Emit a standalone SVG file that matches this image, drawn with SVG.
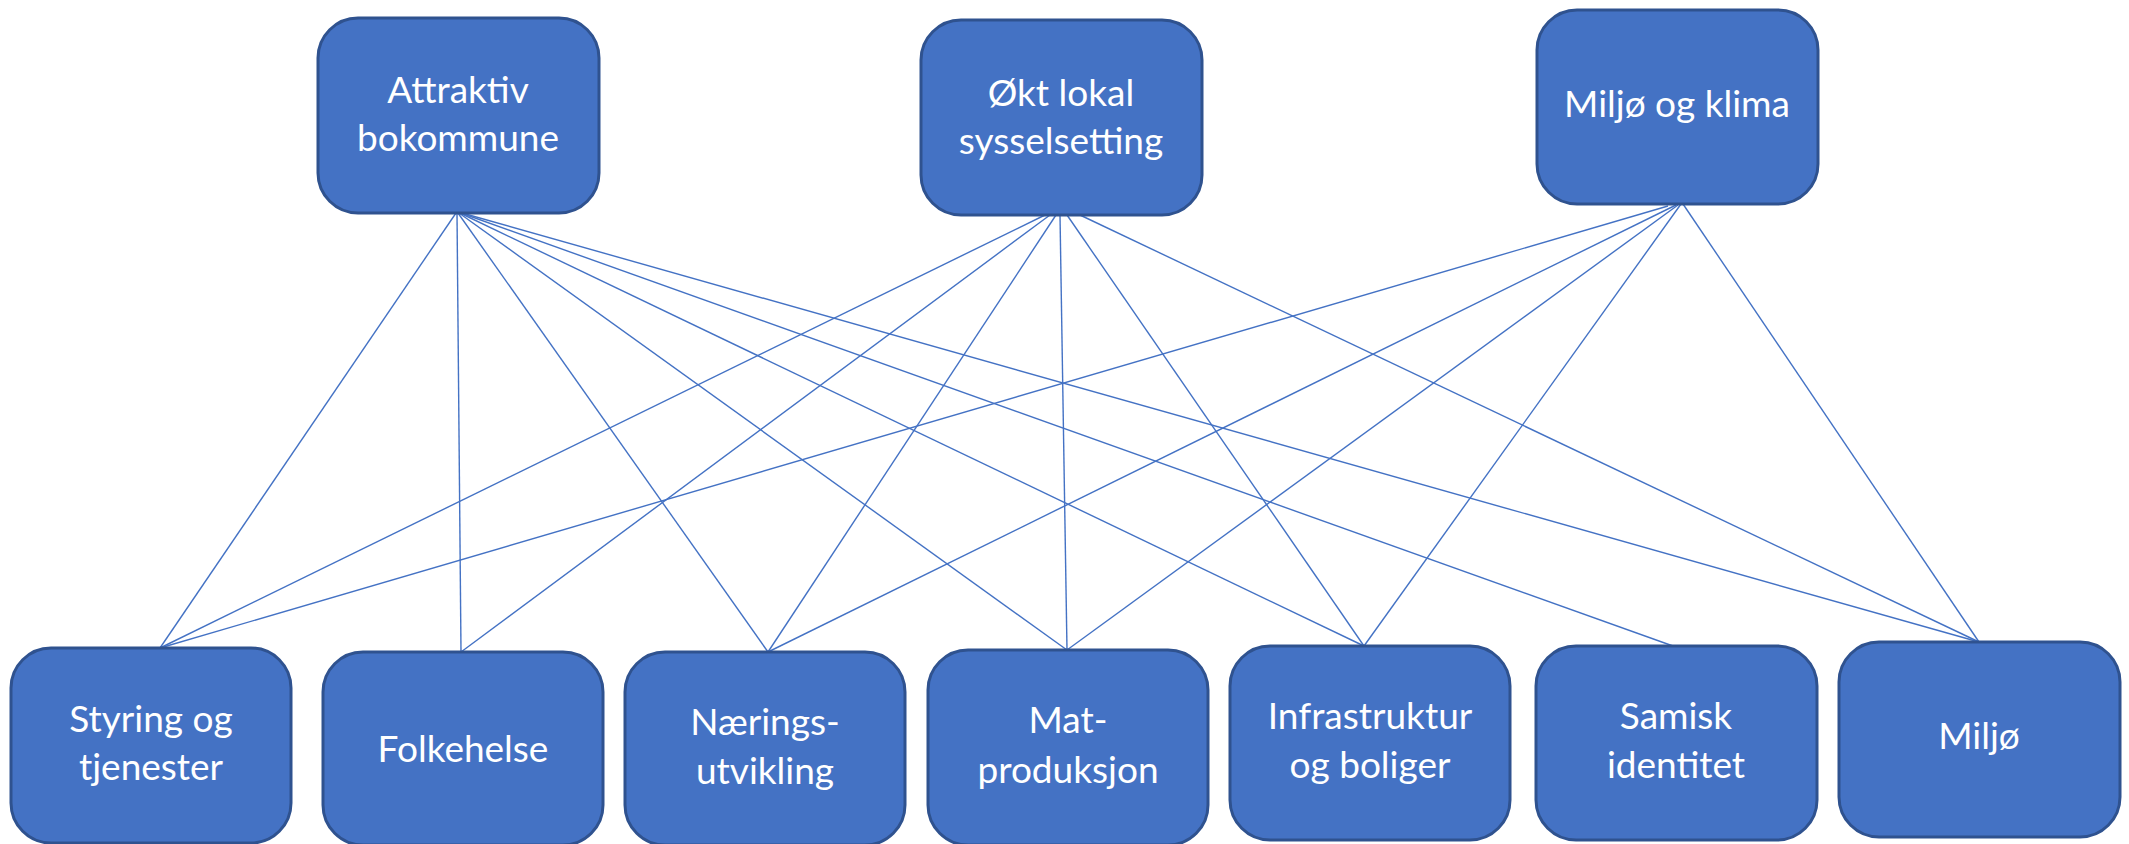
<svg xmlns="http://www.w3.org/2000/svg" width="2129" height="844" viewBox="0 0 2129 844">
<style>
.box{fill:#4472C4;stroke:#2F528F;stroke-width:3}
.lbl{font-family:Lato,"Open Sans","Liberation Sans",sans-serif;font-size:37px;fill:#FFFFFF;text-anchor:middle}
.ln{stroke:#4472C4;stroke-width:1.4;fill:none}
</style>
<rect width="2129" height="844" fill="#FFFFFF"/>
<g id="connectors">
<line class="ln" x1="456" y1="213" x2="160" y2="648"/>
<line class="ln" x1="457" y1="213" x2="461" y2="652"/>
<line class="ln" x1="458" y1="213" x2="768" y2="652"/>
<line class="ln" x1="459" y1="213" x2="1067" y2="650"/>
<line class="ln" x1="460" y1="213" x2="1364" y2="646"/>
<line class="ln" x1="461" y1="213" x2="1673" y2="646"/>
<line class="ln" x1="462" y1="213" x2="1979" y2="642"/>
<line class="ln" x1="1045" y1="215" x2="160" y2="648"/>
<line class="ln" x1="1050" y1="215" x2="461" y2="652"/>
<line class="ln" x1="1056" y1="215" x2="768" y2="652"/>
<line class="ln" x1="1060" y1="215" x2="1067" y2="650"/>
<line class="ln" x1="1067" y1="215" x2="1364" y2="646"/>
<line class="ln" x1="1080" y1="215" x2="1979" y2="642"/>
<line class="ln" x1="1668" y1="206" x2="160" y2="648"/>
<line class="ln" x1="1676" y1="205" x2="768" y2="652"/>
<line class="ln" x1="1678" y1="205" x2="1067" y2="650"/>
<line class="ln" x1="1681" y1="204" x2="1364" y2="646"/>
<line class="ln" x1="1683" y1="204" x2="1979" y2="642"/>
</g>
<g id="n-attraktiv">
<rect class="box" x="318" y="18" width="281" height="195" rx="40"/>
<text class="lbl" x="458" y="103">Attraktiv</text>
<text class="lbl" x="458" y="151">bokommune</text>
</g>
<g id="n-okt">
<rect class="box" x="921" y="20" width="281" height="195" rx="40"/>
<text class="lbl" x="1061" y="106">Økt lokal</text>
<text class="lbl" x="1061" y="154">sysselsetting</text>
</g>
<g id="n-miljoklima">
<rect class="box" x="1537" y="10" width="281" height="194" rx="40"/>
<text class="lbl" x="1677" y="117">Miljø og klima</text>
</g>
<g id="n-styring">
<rect class="box" x="11" y="648" width="280" height="195" rx="40"/>
<text class="lbl" x="151" y="732">Styring og</text>
<text class="lbl" x="151" y="780">tjenester</text>
</g>
<g id="n-folkehelse">
<rect class="box" x="323" y="652" width="280" height="193" rx="40"/>
<text class="lbl" x="463" y="762">Folkehelse</text>
</g>
<g id="n-naerings">
<rect class="box" x="625" y="652" width="280" height="193" rx="40"/>
<text class="lbl" x="765" y="735">Nærings-</text>
<text class="lbl" x="765" y="784">utvikling</text>
</g>
<g id="n-mat">
<rect class="box" x="928" y="650" width="280" height="195" rx="40"/>
<text class="lbl" x="1068" y="733">Mat-</text>
<text class="lbl" x="1068" y="783">produksjon</text>
</g>
<g id="n-infra">
<rect class="box" x="1230" y="646" width="280" height="194" rx="40"/>
<text class="lbl" x="1370" y="729">Infrastruktur</text>
<text class="lbl" x="1370" y="778">og boliger</text>
</g>
<g id="n-samisk">
<rect class="box" x="1536" y="646" width="281" height="194" rx="40"/>
<text class="lbl" x="1676" y="729">Samisk</text>
<text class="lbl" x="1676" y="778">identitet</text>
</g>
<g id="n-miljo">
<rect class="box" x="1839" y="642" width="281" height="195" rx="40"/>
<text class="lbl" x="1979" y="749">Miljø</text>
</g>
</svg>
